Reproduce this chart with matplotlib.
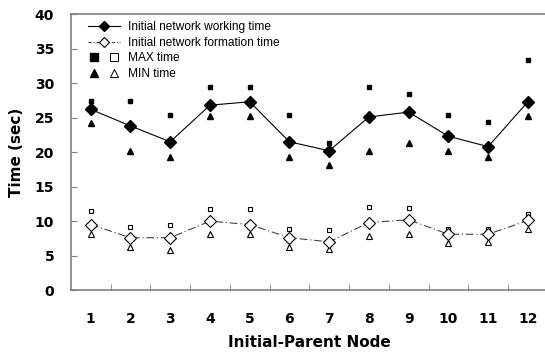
import matplotlib
matplotlib.use('Agg')
import matplotlib.pyplot as plt
from matplotlib.lines import Line2D
from matplotlib.legend_handler import HandlerTuple
import numpy as np

nodes = [1, 2, 3, 4, 5, 6, 7, 8, 9, 10, 11, 12]

# initial network working time (filled markers)
working = [26.2, 23.8, 21.5, 26.8, 27.3, 21.5, 20.2, 25.1, 25.8, 22.3, 20.8, 27.3]
working_max = [27.4, 27.4, 25.4, 29.4, 29.4, 25.4, 21.3, 29.4, 28.4, 25.4, 24.3, 33.4]
working_min = [24.2, 20.2, 19.3, 25.2, 25.2, 19.3, 18.2, 20.2, 21.3, 20.2, 19.3, 25.2]

# initial network formation time (open markers)
formation = [9.5, 7.6, 7.6, 10.0, 9.5, 7.6, 7.0, 9.8, 10.2, 8.1, 8.1, 10.1]
formation_max = [11.4, 9.1, 9.4, 11.8, 11.7, 8.8, 8.7, 12.0, 11.9, 8.8, 8.8, 11.0]
formation_min = [8.2, 6.3, 5.8, 8.1, 8.1, 6.3, 5.9, 7.8, 8.2, 6.8, 7.0, 8.9]

yticks = [0, 5, 10, 15, 20, 25, 30, 35, 40]

fig = plt.figure(figsize=(5.45, 3.53), dpi=100)
ax = fig.add_axes([0.130, 0.178, 0.875, 0.782])

dashdot = (0, (7, 2.5, 1, 2.5))

ax.plot(nodes, working, color='black', lw=0.8, marker='D', ms=6.5,
        mfc='black', mec='black', zorder=3)
ax.plot(nodes, formation, color='#444444', lw=0.8, ls=dashdot, marker='D', ms=6.5,
        mfc='white', mec='black', mew=0.8, zorder=3)

ax.plot(nodes, working_max, ls='none', marker='s', ms=3.5, color='black')
ax.plot(nodes, working_min, ls='none', marker='^', ms=4, color='black')
ax.plot(nodes, formation_max, ls='none', marker='s', ms=3.3, mfc='white', mec='black', mew=0.8)
ax.plot(nodes, formation_min, ls='none', marker='^', ms=4, mfc='white', mec='black', mew=0.8)

ax.set_xlim(0.5, 12.5)
ax.set_ylim(0, 40)
ax.set_yticks(yticks)
ax.set_xticks(nodes)
ax.set_xticks(np.arange(1.5, 12, 1), minor=True)

for s in ['left', 'bottom', 'top']:
    ax.spines[s].set_color('#808080')
    ax.spines[s].set_linewidth(1.2)
ax.spines['right'].set_visible(False)

ax.tick_params(axis='y', direction='in', length=4, color='#808080', pad=12)
ax.tick_params(axis='x', which='major', length=0, pad=16)
ax.tick_params(axis='x', which='minor', direction='in', length=4, color='#808080')

for lab in ax.get_xticklabels() + ax.get_yticklabels():
    lab.set_fontfamily('DejaVu Sans')
    lab.set_fontweight('bold')
    lab.set_fontsize(10)

ax.set_ylabel('Time (sec)', fontsize=11, fontweight='bold', labelpad=8)
ax.set_xlabel('Initial-Parent Node', fontsize=11, fontweight='bold', labelpad=6)

h1 = Line2D([], [], color='black', lw=0.8, marker='D', ms=5, mfc='black', mec='black')
h2 = Line2D([], [], color='#444444', lw=0.8, ls=(0, (3, 1.5, 1, 1.5)), marker='D', ms=5,
            mfc='white', mec='black', mew=0.8)
sq_f = Line2D([], [], ls='none', marker='s', ms=6, color='black')
sq_o = Line2D([], [], ls='none', marker='s', ms=6, mfc='white', mec='black', mew=0.7)
tr_f = Line2D([], [], ls='none', marker='^', ms=6, color='black')
tr_o = Line2D([], [], ls='none', marker='^', ms=6, mfc='white', mec='black', mew=0.7)

ax.legend([h1, h2, (sq_f, sq_o), (tr_f, tr_o)],
          ['Initial network working time', 'Initial network formation time',
           'MAX time', 'MIN time'],
          handler_map={tuple: HandlerTuple(ndivide=None, pad=0.6)},
          loc='upper left', bbox_to_anchor=(0.02, 1.0), frameon=False,
          prop={'family': 'Liberation Sans', 'size': 8.6},
          handlelength=2.7, handletextpad=0.7, labelspacing=0.3, borderaxespad=0.2)

fig.savefig('out.png', dpi=100)
